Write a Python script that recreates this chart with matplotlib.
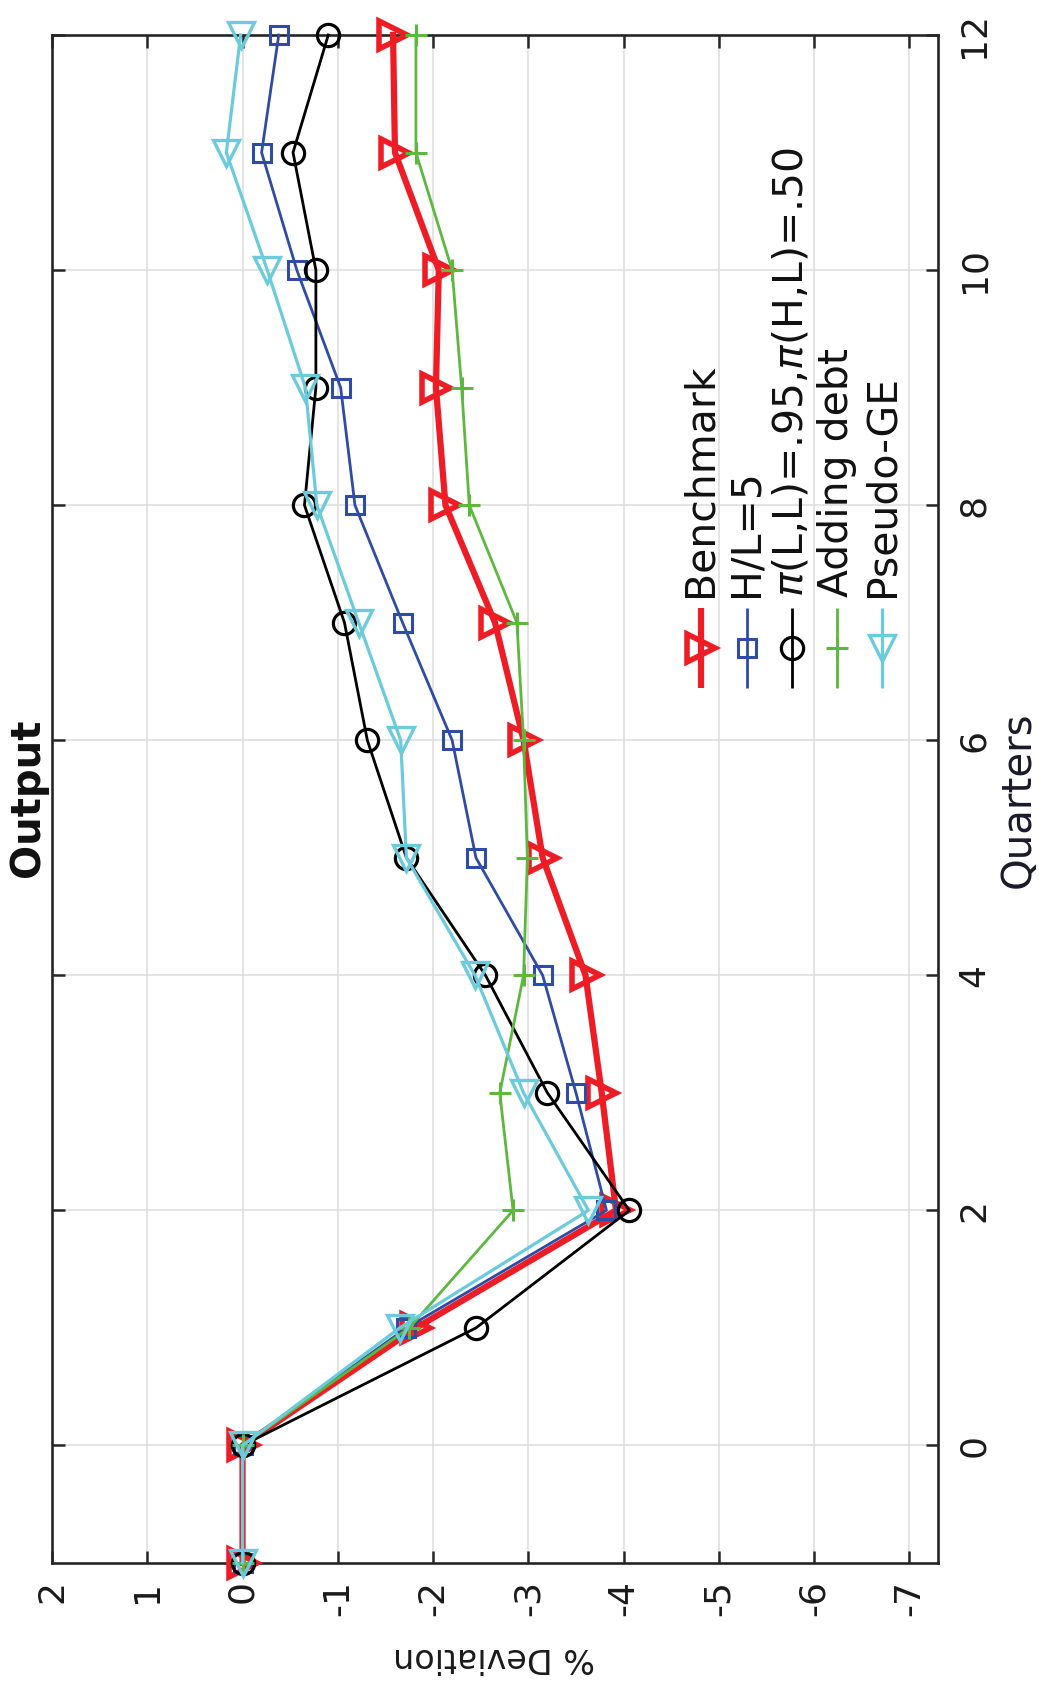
import matplotlib
matplotlib.use("Agg")
import matplotlib.pyplot as plt

plt.rcParams['font.family'] = ['DejaVu Sans']
plt.rcParams['mathtext.fontset'] = 'dejavusans'

# ---------------- data ----------------
quarters = [-1, 0, 1, 2, 3, 4, 5, 6, 7, 8, 9, 10, 11, 12]
benchmark = [0, 0, -1.82, -3.92, -3.77, -3.60, -3.15, -2.95, -2.65, -2.13, -2.03, -2.06, -1.60, -1.58]
hl5 = [0, 0, -1.72, -3.82, -3.50, -3.15, -2.45, -2.20, -1.68, -1.18, -1.03, -0.57, -0.20, -0.38]
pi_case = [0, 0, -2.45, -4.06, -3.20, -2.55, -1.72, -1.31, -1.07, -0.65, -0.77, -0.77, -0.53, -0.90]
adding_debt = [0, 0, -1.75, -2.84, -2.70, -2.95, -2.99, -2.95, -2.88, -2.38, -2.30, -2.20, -1.82, -1.82]
pseudo_ge = [0, 0, -1.65, -3.63, -2.95, -2.44, -1.72, -1.66, -1.22, -0.78, -0.66, -0.26, 0.17, 0.02]

labels = ['Benchmark', 'H/L=5', r'$\pi$(L,L)=.95,$\pi$(H,L)=.50', 'Adding debt', 'Pseudo-GE']
dev_ticks = [2, 1, 0, -1, -2, -3, -4, -5, -6, -7]
quarter_ticks = [0, 2, 4, 6, 8, 10, 12]

# ---------------- styles ----------------
series = [benchmark, hl5, pi_case, adding_debt, pseudo_ge]
colors = ['#EE1D25', '#2E4CA6', '#000000', '#5DB83E', '#6ACBDC']
markers = ['>', 's', 'o', '+', 'v']
lws = [4.5, 2.0, 2.0, 2.0, 2.3]
mss = [20, 13, 16, 16, 19]
mews = [4.0, 2.2, 2.3, 2.2, 2.4]

W, H = 1039, 1693
fig = plt.figure(figsize=(W / 100, H / 100), dpi=100)
ax_l, ax_r, ax_t, ax_b = 52, 938, 35, 1563
ax = fig.add_axes([ax_l / W, 1 - ax_b / H, (ax_r - ax_l) / W, (ax_b - ax_t) / H])

for vals, c, m, lw, ms, mew in zip(series, colors, markers, lws, mss, mews):
    ax.plot(vals, quarters, color=c, lw=lw, marker=m, ms=ms, mew=mew,
            mfc='none', mec=c, clip_on=False, zorder=3)

ax.set_xlim(2, -7.3)
ax.set_ylim(-1, 12)
ax.set_xticks(dev_ticks)
ax.set_xticklabels([str(t) for t in dev_ticks])
ax.set_yticks(quarter_ticks)
ax.set_yticklabels([str(t) for t in quarter_ticks])

ax.grid(True, color='#dcdcdc', lw=1.1, zorder=0)
ax.set_axisbelow(True)
for s in ax.spines.values():
    s.set_color('#262626')
    s.set_linewidth(1.9)

tick_color = '#1a1a1a'
ax.tick_params(axis='x', direction='in', top=True, bottom=True, length=9, width=1.8,
               pad=12, labelsize=26, labelrotation=90, colors='#262626', labelcolor=tick_color)
ax.tick_params(axis='y', direction='in', left=True, right=True, labelleft=False,
               labelright=True, length=9, width=1.8, pad=14, labelsize=26,
               labelrotation=90, colors='#262626', labelcolor=tick_color)
for lab in ax.get_yticklabels():
    lab.set_va('center')

# ---------------- legend (vertical entries, rotated text) ----------------
leg_x = [0.7325, 0.7844, 0.835, 0.886, 0.937]
y_top, y_bot, y_mark, y_text = 0.625, 0.5726, 0.5988, 0.632
for lx, lab, c, m, lw, ms, mew in zip(leg_x, labels, colors, markers, lws, mss, mews):
    ax.plot([lx, lx], [y_bot, y_top], transform=ax.transAxes, color=c, lw=lw,
            solid_capstyle='butt', zorder=4)
    ax.plot([lx], [y_mark], transform=ax.transAxes, color=c, marker=m, ms=ms,
            mew=mew, mfc='none', mec=c, zorder=4)
    ax.text(lx, y_text, lab, transform=ax.transAxes, rotation=90, ha='center',
            va='bottom', fontsize=29.5, color='#111111', zorder=5)

# ---------------- titles / labels ----------------
fig.text(28 / W, 1 - 798 / H, 'Output', rotation=90, ha='center', va='center',
         fontsize=29, fontweight='bold', color='#111111')
fig.text(1019 / W, 1 - 800 / H, 'Quarters', rotation=90, ha='center', va='center',
         fontsize=29, color='#1a1a2a')
fig.text(494 / W, 1 - 1658 / H, '% Deviation', rotation=180, ha='center', va='center',
         fontsize=24, color='#1a1a1a')

fig.savefig('out.png', dpi=100)
